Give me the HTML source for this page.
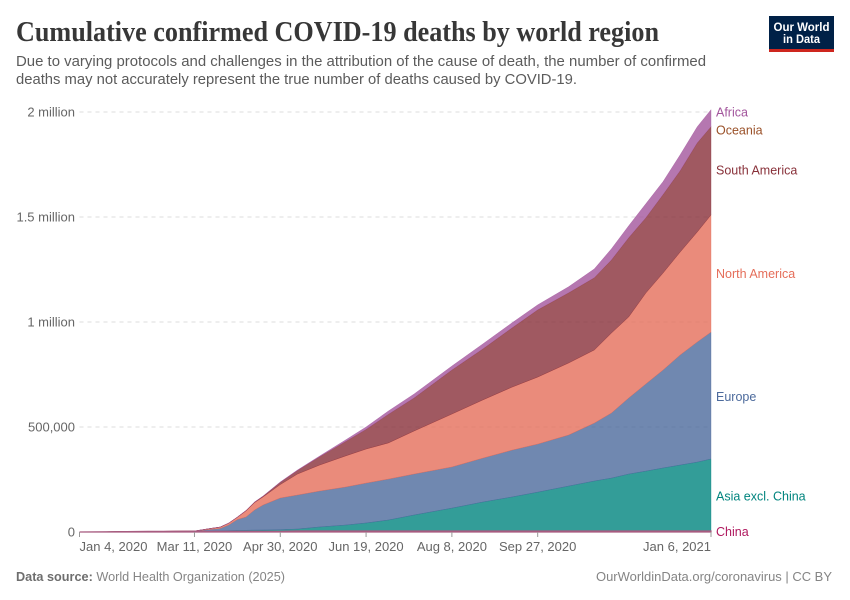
<!DOCTYPE html>
<html lang="en">
<head>
<meta charset="utf-8">
<title>Cumulative confirmed COVID-19 deaths by world region</title>
<style>
html,body{margin:0;padding:0;background:#fff;}
svg{display:block;font-family:"Liberation Sans",sans-serif;}
</style>
</head>
<body>
<svg id="chart" xmlns="http://www.w3.org/2000/svg" width="850" height="600" viewBox="0 0 850 600">
  <rect x="0" y="0" width="850" height="600" fill="#fff"/>
  <text x="16" y="41" font-family="'Liberation Serif',serif" font-weight="700" font-size="28" fill="#373737" textLength="643" lengthAdjust="spacingAndGlyphs">Cumulative confirmed COVID-19 deaths by world region</text>
  <text x="16" y="66" font-size="14.5" fill="#5b5b5b" textLength="690" lengthAdjust="spacingAndGlyphs">Due to varying protocols and challenges in the attribution of the cause of death, the number of confirmed</text>
  <text x="16" y="84" font-size="14.5" fill="#5b5b5b" textLength="561" lengthAdjust="spacingAndGlyphs">deaths may not accurately represent the true number of deaths caused by COVID-19.</text>

  <g>
    <rect x="769" y="16" width="65" height="36" fill="#002147"/>
    <rect x="769" y="49" width="65" height="3" fill="#ce261e"/>
    <text x="801.5" y="31" text-anchor="middle" font-size="12" font-weight="700" fill="#fff" textLength="56" lengthAdjust="spacingAndGlyphs">Our World</text>
    <text x="801.5" y="43" text-anchor="middle" font-size="12" font-weight="700" fill="#fff" textLength="37" lengthAdjust="spacingAndGlyphs">in Data</text>
  </g>

  <g id="grid"></g>
  <g id="areas"></g>
  <g id="yaxis"></g>
  <g id="xaxis"></g>
  <g id="labels"></g>

  <text x="16" y="581" font-size="13" fill="#858585" textLength="269" lengthAdjust="spacingAndGlyphs"><tspan font-weight="700" fill="#6e6e6e">Data source:</tspan> World Health Organization (2025)</text>
  <text x="832" y="581" text-anchor="end" font-size="13" fill="#858585" textLength="236" lengthAdjust="spacingAndGlyphs">OurWorldinData.org/coronavirus | CC BY</text>
</svg>
<script>
// Days since Jan 4, 2020
const days = [0,40,67,76,82,87,92,97,102,107,117,127,140,155,167,180,195,217,235,252,267,285,300,310,320,330,340,350,360,368];
// Cumulative deaths in thousands
const china = [0,2.8,3.2,3.2,3.3,3.3,3.3,3.3,3.3,3.3,3.3,4.6,4.6,4.6,4.6,4.6,4.6,4.7,4.7,4.7,4.7,4.7,4.7,4.7,4.8,4.8,4.8,4.8,4.8,4.8];
const asia = [0,0.1,0.5,1,2,3,4,5,5.7,6,7.7,9.4,19.4,28.4,38.4,52.4,76.4,109,138,162,185,214,238,252,271,285,300,314,328,343];
const europe = [0,0.1,0.9,7.7,11.4,27,52.2,63.1,95.8,119.3,150.9,162,171,181,190,195,195,196,209,223,229,243,276,310,362,415,466,524,572,604];
const northAmerica = [0,0,0.05,4.3,6.5,8.7,10.6,29,35.1,38.6,64.1,100,124,148,162,172,205,252,277,300,319,343,348,381,386,433,462,490,524,558];
const southAmerica = [0,0,0.01,0.2,0.3,0.5,0.8,1.3,2,3,10,16.5,39,68,93,136,157,209,242,281,319,333,343,347,376,357,372,386,423,419];
const oceania = [0,0,0,0.01,0.02,0.03,0.05,0.06,0.08,0.1,0.12,0.13,0.13,0.13,0.13,0.15,0.3,0.5,0.7,0.9,1,1,1,1,1,1,1,1,1,1];
const africa = [0,0,0.03,0.3,0.3,0.4,0.5,0.7,1,1.2,2.2,2.5,4,8,12,16,19,19,24,24,24,29,42,53,57,67,62,76,77,81];

const seriesNames = ["China","Asia excl. China","Europe","North America","South America","Oceania","Africa"];
const seriesValues = [china,asia,europe,northAmerica,southAmerica,oceania,africa];
const seriesFills = ["#BE2A6C","#00847E","#4C6A9C","#E56E5A","#883039","#9A5129","#A2559C"];
const labelColors = ["#B0195F","#00847E","#4C6A9C","#E56E5A","#883039","#9A5129","#A2559C"];

const yTickValues = [0,500,1000,1500,2000];
const yTickLabels = ["0","500,000","1 million","1.5 million","2 million"];
const xTickDays = [0,67,117,167,217,267,368];
const xTickLabels = ["Jan 4, 2020","Mar 11, 2020","Apr 30, 2020","Jun 19, 2020","Aug 8, 2020","Sep 27, 2020","Jan 6, 2021"];

const NS = "http://www.w3.org/2000/svg";
const plotLeft = 79.5, plotRight = 711, plotBottom = 532, plotTop = 112;
const lastDay = days[days.length - 1];
const yMax = yTickValues[yTickValues.length - 1];
function xScale(d){ return plotLeft + (plotRight - plotLeft) * d / lastDay; }
function yScale(v){ return plotBottom - (plotBottom - plotTop) * v / yMax; }
function make(tag, attrs, parent){
  const el = document.createElementNS(NS, tag);
  for (const k in attrs) el.setAttribute(k, attrs[k]);
  parent.appendChild(el);
  return el;
}

const gridG = document.getElementById("grid");
const yG = document.getElementById("yaxis");
yTickValues.forEach(function(v, i){
  if (v > 0) {
    const line = make("line", {x1: plotLeft, x2: plotRight, y1: yScale(v), y2: yScale(v), stroke: "#dddddd", "stroke-width": 1, "stroke-dasharray": "4 4"}, gridG);
    
    
  }
  const t = make("text", {x: 75, y: yScale(v) + 4.5, "text-anchor": "end", "font-size": 13, fill: "#666666"}, yG);
  
  
  t.textContent = yTickLabels[i];
});

const xG = document.getElementById("xaxis");
xTickDays.forEach(function(d, i){
  const tick = make("line", {x1: xScale(d), x2: xScale(d), y1: plotBottom, y2: plotBottom + 5, stroke: "#999999", "stroke-width": 1}, xG);
  
  
  const anchor = i === 0 ? "start" : (i === xTickDays.length - 1 ? "end" : "middle");
  const t = make("text", {x: xScale(d), y: 551, "text-anchor": anchor, "font-size": 13, fill: "#666666"}, xG);
  
  
  t.textContent = xTickLabels[i];
});

const areasG = document.getElementById("areas");
const labelsG = document.getElementById("labels");
const labelNudge = [0,1,1,0,-1,3,-6];
let baseline = days.map(function(){ return 0; });
let chinaArea = null;
seriesValues.forEach(function(vals, s){
  const top = baseline.map(function(b, i){ return b + vals[i]; });
  let d = "";
  days.forEach(function(day, i){ d += (i ? "L" : "M") + xScale(day).toFixed(2) + " " + yScale(top[i]).toFixed(2); });
  for (let i = days.length - 1; i >= 0; i--) { d += "L" + xScale(days[i]).toFixed(2) + " " + yScale(baseline[i]).toFixed(2); }
  d += "Z";
  const isChina = s === 0;
  const area = make("path", {d: d, fill: isChina ? "#A85C80" : seriesFills[s], "fill-opacity": isChina ? 1 : 0.8, stroke: isChina ? "#A85C80" : seriesFills[s], "stroke-width": isChina ? 1.2 : 0.5, "stroke-opacity": isChina ? 1 : 0.7}, areasG);
  
  
  if (isChina) chinaArea = area;

  const n = days.length - 1;
  const mid = (top[n] + baseline[n]) / 2;
  const label = make("text", {x: 716, y: yScale(mid) + 4.5 + labelNudge[s], "font-size": 12.5, fill: labelColors[s]}, labelsG);
  
  
  label.textContent = seriesNames[s];
  baseline = top;
});
areasG.appendChild(chinaArea);
</script>
</body>
</html>
